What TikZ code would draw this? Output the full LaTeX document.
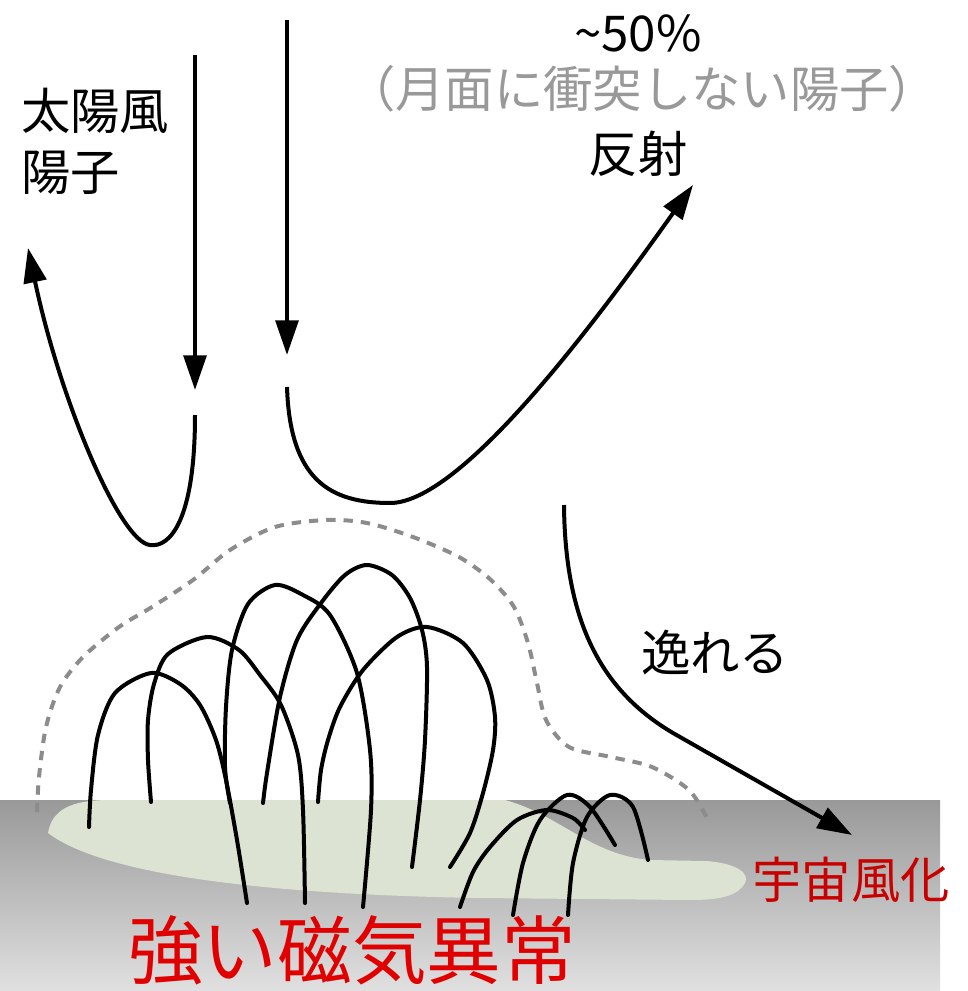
\documentclass[tikz,border=0pt]{standalone}
\usepackage{fontspec}
\setmainfont{Noto Sans CJK JP}
\usetikzlibrary{arrows.meta}
\definecolor{hold}{RGB}{221,227,210}
\definecolor{piros}{RGB}{225,0,0}
\definecolor{mpiros}{RGB}{200,0,0}
\tikzset{
  palya/.style={line width=3pt,-{Triangle[length=26pt,width=17pt]}},
  eroves/.style={line width=3pt,line cap=round},
  hatar/.style={line width=3pt,black!45,dash pattern=on 7pt off 6pt},
  felirat/.style={inner sep=0pt,font=\fontsize{37}{46}\selectfont},
}

\begin{document}
\begin{tikzpicture}[x=0.75pt,y=-0.75pt]
  \useasboundingbox (0,0) rectangle (967,991);
  % talaj es a magneses anomalia folt
  \shade[top color=black!40,bottom color=black!12] (0,800) rectangle (940,991);
  \fill[hold] (48,833) .. controls (52,810) and (70,800) .. (110,800) -- (505,800)
    .. controls (560,815) and (590,855) .. (650,860) -- (705,861)
    .. controls (738,863) and (750,874) .. (745,883)
    .. controls (738,896) and (720,900) .. (690,900) -- (480,898)
    .. controls (300,895) and (110,880) .. (48,833) -- cycle;
  % magnetoszfera hatara
  \draw[hatar] plot[smooth] coordinates {(37,812) (39,777) (46,727) (60,687) (83,657)
    (119,627) (152,607) (193,580) (230,550) (275,527) (326,520) (367,523) (413,537)
    (459,557) (491,580) (514,607) (528,643) (537,683) (546,720) (569,747) (611,757)
    (652,767) (689,790) (707,818)};
  % erovonalak
  \draw[eroves] plot[smooth] coordinates {(89,827) (91,790) (98,735) (115,693) (151,673)
    (180,684) (200,705) (216,740) (226,780) (237,840) (247,903)};
  \draw[eroves] plot[smooth] coordinates {(151,802) (148,760) (148,720) (154,684) (168,654)
    (207,637) (239,650) (260,675) (281,705) (298,755) (303,810) (305,903)};
  \draw[eroves] plot[smooth] coordinates {(230,803) (225,767) (226,707) (232,650) (248,604)
    (275,585) (303,595) (330,615) (357,673) (370,750) (371,810) (363,907)};
  \draw[eroves] plot[smooth] coordinates {(263,803) (267,773) (280,697) (297,640) (321,603)
    (345,575) (367,565) (392,575) (410,598) (422,630) (427,667) (425,740) (420,800) (412,867)};
  \draw[eroves] plot[smooth] coordinates {(318,802) (321,770) (328,740) (340,707) (363,670)
    (397,637) (427,627) (463,643) (487,680) (495,717) (493,750) (483,793) (470,833) (450,867)};
  \draw[eroves] plot[smooth] coordinates {(460,907) (473,872) (490,847) (517,820) (547,810)
    (573,818) (585,830)};
  \draw[eroves] plot[smooth] coordinates {(513,915) (523,863) (540,820) (567,795) (590,807)
    (615,845)};
  \draw[eroves] plot[smooth] coordinates {(568,915) (573,863) (587,817) (610,795) (633,807)
    (648,860)};
  % napszel protonok palyai
  \coordinate (be1) at (195,55);   \coordinate (be1v) at (195,390);
  \coordinate (ki1) at (195,415);  \coordinate (ki1v) at (28,248);
  \coordinate (be2) at (287,20);   \coordinate (be2v) at (287,355);
  \coordinate (ki2) at (287,387);  \coordinate (ki2v) at (693,185);
  \coordinate (el) at (564,505);   \coordinate (elv) at (852,835);
  \draw[palya] (be1) -- (be1v);
  \draw[palya] (be2) -- (be2v);
  \draw[palya] (ki1) .. controls (195,520) and (170,548) .. (150,545)
    .. controls (120,542) and (60,400) .. (ki1v);
  \draw[palya] (ki2) .. controls (290,480) and (330,503) .. (390,503)
    .. controls (460,503) and (590,330) .. (ki2v);
  \draw[palya] (el) .. controls (565,620) and (600,690) .. (673,733) -- (elv);
  % feliratok
  \node[felirat,anchor=base west,align=left] (napszel) at (21,191) {太陽風\\陽子};
  \node[felirat] (arany) at (638,33) {\textasciitilde50\%};
  \node[felirat,black!40] (megj) at (642,89) {（月面に衝突しない陽子）};
  \node[felirat] (visszav) at (638,154) {反射};
  \node[felirat] (elter) at (715,653) {逸れる};
  \node[felirat,mpiros] (mallas) at (851,880) {宇宙風化};
  \node[felirat,piros,font=\fontsize{56}{60}\selectfont] (anom) at (352,950) {強い磁気異常};
\end{tikzpicture}
\end{document}
